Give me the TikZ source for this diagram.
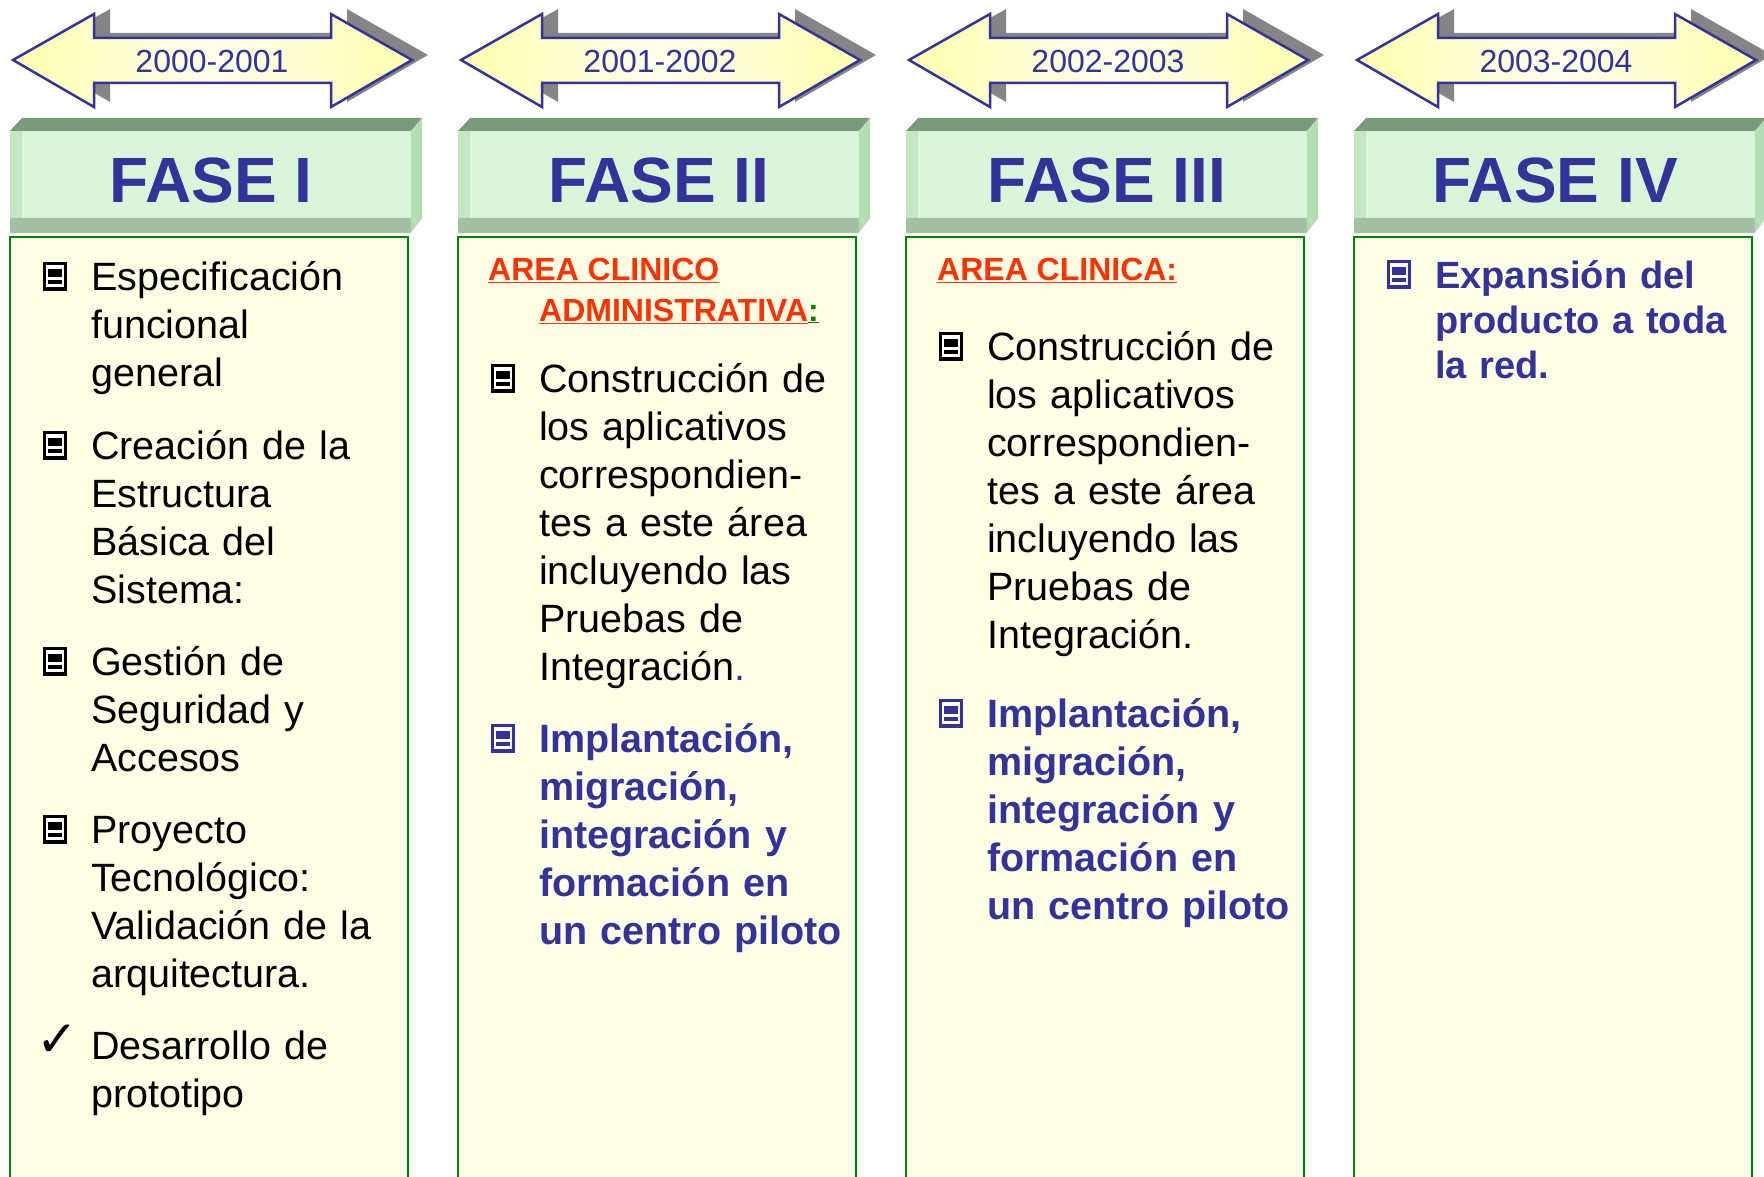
\documentclass[tikz,border=0pt]{standalone}
\usepackage{fontspec}
\setmainfont{Liberation Sans}
\newfontfamily\symfont{DejaVu Sans}
\usepackage{tikz}
\usetikzlibrary{positioning}
\definecolor{azul}{HTML}{333399}
\definecolor{rojo}{HTML}{FF3300}
\definecolor{verde}{HTML}{008000}
\definecolor{crema}{HTML}{FFFFE6}
\definecolor{amarillo}{HTML}{FFFFB0}
\definecolor{amarilloclaro}{HTML}{FFFFEA}
\definecolor{sombra}{HTML}{858585}
\definecolor{menta}{HTML}{DAF6DA}
\definecolor{mentaosc}{HTML}{7A9A7A}
\definecolor{mentalado}{HTML}{B3DDB3}
\definecolor{mentaborde}{HTML}{C4E8C4}
\definecolor{mentabanda}{HTML}{A3C0A3}
\tikzset{
  pics/yeararrow/.style={code={
    \fill[sombra, shift={(16,-5)}] (13,60) -- (94,14) -- (94,38) -- (331,38)
      -- (331,14) -- (412,60) -- (331,107) -- (331,83) -- (94,83) -- (94,107) -- cycle;
    \draw[azul, line width=2.5, left color=amarillo, right color=amarillo,
      middle color=amarilloclaro] (13,60) -- (94,14) -- (94,38) -- (331,38)
      -- (331,14) -- (412,60) -- (331,107) -- (331,83) -- (94,83) -- (94,107) -- cycle;
  }},
  pics/fasehead/.style={code={
    \fill[mentaosc] (10,131) -- (22,118) -- (422,118) -- (411,131) -- cycle;
    \fill[mentalado] (411,131) -- (422,118) -- (422,218) -- (411,233) -- cycle;
    \fill[menta] (10,131) rectangle (411,233);
    \fill[mentaborde] (10,131) rectangle (22,233);
    \fill[mentabanda] (10,218) -- (22,218) -- (411,218) -- (411,233) -- (10,233) -- cycle;
  }},
  pics/itemicon/.style={code={
    \fill[#1] (0,0) rectangle (24,29);
    \fill[white] (3,3) rectangle (21,25);
    \fill[#1] (5,7) rectangle (19,15);
    \fill[#1] (5,18) rectangle (19,22);
  }},
  bodybox/.style={draw=verde, line width=2.5, fill=crema},
  yeartext/.style={anchor=base, inner sep=0pt, text=azul,
    font=\fontsize{32}{38}\selectfont},
  fasetext/.style={anchor=base, inner sep=0pt, text=azul,
    font=\fontsize{64}{70}\selectfont\bfseries},
  itemtext/.style={anchor=base west, inner sep=0pt, align=left,
    text width=340pt, font=\fontsize{39.5}{48}\selectfont},
  bluetext/.style={itemtext, text=azul, font=\fontsize{39.5}{48}\selectfont\bfseries},
  areatext/.style={anchor=base west, inner sep=0pt, text=rojo,
    font=\fontsize{32}{41}\selectfont\bfseries},
  checkmark/.style={anchor=base west, inner sep=0pt,
    font=\symfont\bfseries\fontsize{50}{50}\selectfont},
}
\begin{document}
\begin{tikzpicture}[x=1pt, y=-1pt]
\useasboundingbox (0,0) rectangle (1764,1177);
\fill[white] (0,0) rectangle (1764,1177);

% columns: year arrow, phase header, body frame
\foreach \i/\yr/\num in {0/2000-2001/I, 1/2001-2002/II, 2/2002-2003/III, 3/2003-2004/IV}{
  \begin{scope}[xshift=\i*448pt]
    \pic {yeararrow};
    \node[yeartext] (year\i) at (212,73) {\yr};
    \pic {fasehead};
    \node[fasetext] (fase\i) at (211,203) {FASE \num};
    \draw[bodybox] (10,237) rectangle (408,1190);
  \end{scope}
}

% FASE I
\pic at (43,262) {itemicon=black};
\node[itemtext] (c1a) at (91,290) {Especificación\\funcional\\general};
\pic at (43,431) {itemicon=black};
\node[itemtext] (c1b) at (91,459) {Creación de la\\Estructura\\Básica del\\Sistema:};
\pic at (43,647) {itemicon=black};
\node[itemtext] (c1c) at (91,675) {Gestión de\\Seguridad y\\Accesos};
\pic at (43,815) {itemicon=black};
\node[itemtext] (c1d) at (91,843) {Proyecto\\Tecnológico:\\Validación de la\\arquitectura.};
\node[checkmark] (c1ck) at (36,1056) {✓};
\node[itemtext] (c1e) at (91,1059) {Desarrollo de\\prototipo};

% FASE II
\node[areatext] (c2h1) at (488,280) {\underline{AREA CLINICO}};
\node[areatext] (c2h2) at (539,321) {\underline{ADMINISTRATIVA}\textcolor{verde}{\underline{:}}};
\pic at (491,364) {itemicon=black};
\node[itemtext] (c2a) at (539,392) {Construcción de\\los aplicativos\\correspondien-\\tes a este área\\incluyendo las\\Pruebas de\\Integración\textcolor{azul}{.}};
\pic at (491,724) {itemicon=azul};
\node[bluetext] (c2b) at (539,752) {Implantación,\\migración,\\integración y\\formación en\\un centro piloto};

% FASE III
\node[areatext] (c3h) at (937,280) {\underline{AREA CLINICA:}};
\pic at (939,332) {itemicon=black};
\node[itemtext] (c3a) at (987,360) {Construcción de\\los aplicativos\\correspondien-\\tes a este área\\incluyendo las\\Pruebas de\\Integración.};
\pic at (939,699) {itemicon=azul};
\node[bluetext] (c3b) at (987,727) {Implantación,\\migración,\\integración y\\formación en\\un centro piloto};

% FASE IV
\pic at (1387,260) {itemicon=azul};
\node[bluetext, font=\fontsize{38}{45}\selectfont\bfseries] (c4a) at (1435,288) {Expansión del\\producto a toda\\la red.};
\end{tikzpicture}
\end{document}
